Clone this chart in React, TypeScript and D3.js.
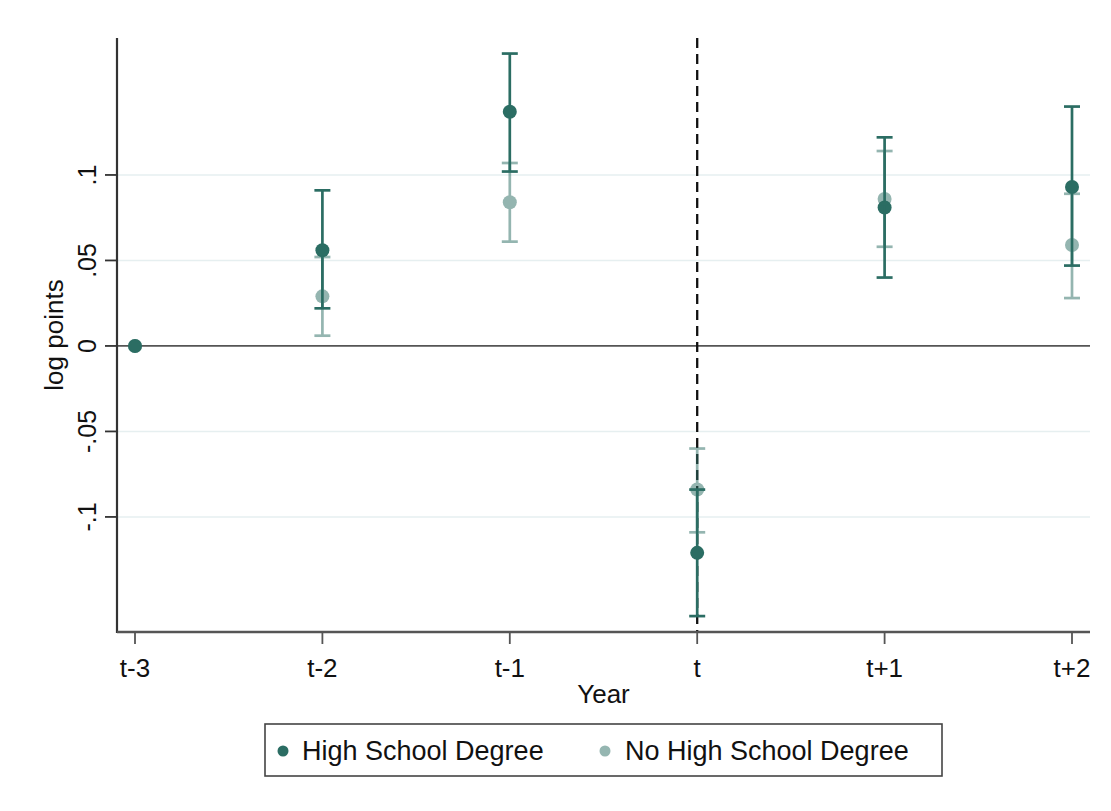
import React from "react";
import * as d3 from "d3";

// Event-study estimates by education group (log points) with 95% CIs
const years = ["t-3", "t-2", "t-1", "t", "t+1", "t+2"];
const hsEst = [0, 0.056, 0.137, -0.121, 0.081, 0.093];
const hsLo = [0, 0.022, 0.102, -0.158, 0.04, 0.047];
const hsHi = [0, 0.091, 0.171, -0.084, 0.122, 0.14];
const nhsEst = [0, 0.029, 0.084, -0.084, 0.086, 0.059];
const nhsLo = [0, 0.006, 0.061, -0.109, 0.058, 0.028];
const nhsHi = [0, 0.052, 0.107, -0.06, 0.114, 0.089];
const yTicks = [-0.1, -0.05, 0, 0.05, 0.1];
const yTickLabels = ["-.1", "-.05", "0", ".05", ".1"];
const seriesNames = ["High School Degree", "No High School Degree"];

const W = 1111;
const H = 811;
const plot = { left: 117, right: 1090, top: 38, bottom: 632 };
const dark = "#2b6d63";
const font = "'Liberation Sans', Arial, sans-serif";

export default function App() {
  const x = d3
    .scaleLinear()
    .domain([0, years.length - 1])
    .range([135, 1072]);
  const y = d3.scaleLinear().domain([-0.1673, 0.1801]).range([plot.bottom, plot.top]);

  const series = [
    { est: hsEst, lo: hsLo, hi: hsHi, opacity: 1 },
    { est: nhsEst, lo: nhsLo, hi: nhsHi, opacity: 0.5 },
  ];

  return (
    <svg
      width={W}
      height={H}
      style={{ position: "absolute", left: 0, top: 0, background: "#fff" }}
      fontFamily={font}
    >
      <rect width={W} height={H} fill="#fff" />
      {/* grid */}
      {yTicks
        .filter((t) => t !== 0)
        .map((t) => (
          <line
            key={"g" + t}
            x1={plot.left}
            x2={plot.right}
            y1={y(t)}
            y2={y(t)}
            stroke="#e6eff0"
            strokeWidth={1.5}
          />
        ))}
      {/* zero reference line */}
      <line x1={plot.left} x2={plot.right} y1={y(0)} y2={y(0)} stroke="#555" strokeWidth={1.8} />
      {/* event line */}
      <line
        x1={x(3)}
        x2={x(3)}
        y1={plot.top}
        y2={plot.bottom}
        stroke="#111"
        strokeWidth={2.3}
        strokeDasharray="10,6"
      />
      {/* series */}
      {series.map((s, si) => (
        <g key={"s" + si} opacity={s.opacity}>
          {years.map((_, i) =>
            s.hi[i] !== s.lo[i] ? (
              <g key={"e" + i} stroke={dark} strokeWidth={2.7}>
                <line x1={x(i)} x2={x(i)} y1={y(s.lo[i])} y2={y(s.hi[i])} />
                <line x1={x(i) - 8} x2={x(i) + 8} y1={y(s.lo[i])} y2={y(s.lo[i])} />
                <line x1={x(i) - 8} x2={x(i) + 8} y1={y(s.hi[i])} y2={y(s.hi[i])} />
              </g>
            ) : null
          )}
          {years.map((_, i) => (
            <circle key={"p" + i} cx={x(i)} cy={y(s.est[i])} r={7} fill={dark} />
          ))}
        </g>
      ))}
      {/* axes */}
      <line x1={plot.left} x2={plot.left} y1={plot.top} y2={plot.bottom + 1} stroke="#333" strokeWidth={2.2} />
      <line x1={plot.left} x2={plot.right} y1={plot.bottom} y2={plot.bottom} stroke="#555" strokeWidth={2.4} />
      {yTicks.map((t, i) => (
        <g key={"yt" + t}>
          <line x1={plot.left - 12} x2={plot.left} y1={y(t)} y2={y(t)} stroke="#333" strokeWidth={1.8} />
          <text
            transform={`translate(96,${y(t)}) rotate(-90)`}
            textAnchor="middle"
            fontSize={25}
            fill="#111"
          >
            {yTickLabels[i]}
          </text>
        </g>
      ))}
      {years.map((yr, i) => (
        <g key={"xt" + yr}>
          <line x1={x(i)} x2={x(i)} y1={plot.bottom} y2={plot.bottom + 12} stroke="#555" strokeWidth={1.8} />
          <text x={x(i)} y={677} textAnchor="middle" fontSize={26} fill="#111">
            {yr}
          </text>
        </g>
      ))}
      <text x={(plot.left + plot.right) / 2} y={703} textAnchor="middle" fontSize={26} fill="#111">
        Year
      </text>
      <text
        transform={`translate(63,${(plot.top + plot.bottom) / 2}) rotate(-90)`}
        textAnchor="middle"
        fontSize={26}
        fill="#111"
      >
        log points
      </text>
      {/* legend */}
      <rect x={265} y={724} width={677} height={52} fill="#fff" stroke="#444" strokeWidth={1.6} />
      <circle cx={283} cy={751} r={5.5} fill={dark} />
      <text x={302} y={760} fontSize={27} fill="#111">
        {seriesNames[0]}
      </text>
      <circle cx={605} cy={751} r={5.5} fill={dark} opacity={0.5} />
      <text x={625} y={760} fontSize={27} fill="#111">
        {seriesNames[1]}
      </text>
    </svg>
  );
}
